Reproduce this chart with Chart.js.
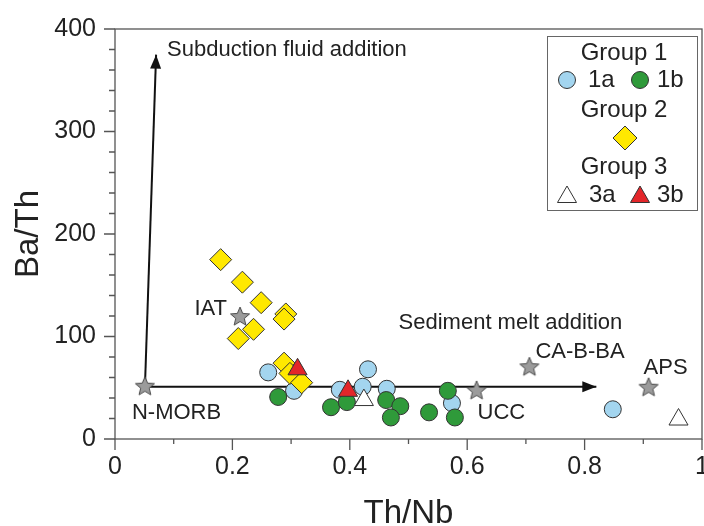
<!DOCTYPE html>
<html>
<head>
<meta charset="utf-8">
<title>Ba/Th vs Th/Nb</title>
<script src="https://cdn.jsdelivr.net/npm/chart.js@4.4.0/dist/chart.umd.min.js"></script>
<style>
  html, body { margin: 0; padding: 0; background: #fff; }
</style>
</head>
<body>
<canvas id="chart" width="704" height="526"></canvas>
<script>
// Group 1a - light blue circles
const g1aX = [0.261, 0.305, 0.383, 0.422, 0.431, 0.463, 0.574, 0.848]
const g1aY = [65, 47, 48, 51, 68, 49, 35, 29]
// Group 1b - green circles
const g1bX = [0.278, 0.368, 0.395, 0.462, 0.486, 0.470, 0.535, 0.567, 0.579]
const g1bY = [41, 31, 36, 38, 32, 21, 26, 47, 21]
// Group 2 - yellow diamonds
const g2X = [0.180, 0.217, 0.249, 0.291, 0.288, 0.236, 0.210, 0.288, 0.298, 0.318]
const g2Y = [175, 153, 133, 122, 117, 107, 98, 74, 64, 55]
// Group 3a / 3b - triangles
const g3aX = [0.424, 0.960]
const g3aY = [38, 19]
const g3bX = [0.311, 0.397]
const g3bY = [68, 47]
// reference compositions (stars)
const refNames = ['N-MORB', 'IAT', 'UCC', 'CA-B-BA', 'APS']
const refX = [0.051, 0.213, 0.616, 0.706, 0.909]
const refY = [51, 119, 47, 70, 50]
// trend arrows, both starting at N-MORB
const fluidX = [0.051, 0.070]
const fluidY = [51, 375]
const meltX = [0.051, 0.820]
const meltY = [51, 51]

const FONT = "'Liberation Sans', Arial, Helvetica, sans-serif"
const INK = '#222'
const EDGE = '#333'

const pts = (xs, ys) => xs.map((x, i) => ({ x, y: ys[i] }))

function makeStar(r) {
  const s = Math.ceil(r * 2 + 4)
  const c = document.createElement('canvas')
  c.width = s; c.height = s
  const g = c.getContext('2d')
  g.beginPath()
  for (let i = 0; i < 10; i++) {
    const rr = i % 2 ? r * 0.45 : r
    const a = -Math.PI / 2 + i * Math.PI / 5
    g.lineTo(s / 2 + rr * Math.cos(a), s / 2 + rr * Math.sin(a))
  }
  g.closePath()
  g.fillStyle = '#9b9b9b'
  g.fill()
  g.lineWidth = 1
  g.strokeStyle = '#4a4a4a'
  g.stroke()
  return c
}
const starImg = makeStar(10)

// frame + outward tick marks (long at labelled values, short otherwise)
const axisDecor = {
  id: 'axisDecor',
  beforeDatasetsDraw(chart) {
    const { ctx, chartArea: a, scales: { x, y } } = chart
    ctx.save()
    ctx.strokeStyle = '#555'
    ctx.lineWidth = 1.3
    ctx.strokeRect(a.left, a.top, a.right - a.left, a.bottom - a.top)
    ctx.beginPath()
    y.ticks.forEach(t => {
      const py = y.getPixelForValue(t.value)
      const len = Math.round(t.value) % 100 === 0 ? 11 : 6
      ctx.moveTo(a.left - len, py)
      ctx.lineTo(a.left, py)
    })
    x.ticks.forEach(t => {
      const px = x.getPixelForValue(t.value)
      const len = Math.round(t.value * 10) % 2 === 0 ? 11 : 5
      ctx.moveTo(px, a.bottom)
      ctx.lineTo(px, a.bottom + len)
    })
    ctx.stroke()
    ctx.restore()
  }
}

function arrowHead(ctx, x0, y0, x1, y1) {
  const ang = Math.atan2(y1 - y0, x1 - x0)
  const L = 14, W = 5.5
  ctx.beginPath()
  ctx.moveTo(x1, y1)
  ctx.lineTo(x1 - L * Math.cos(ang) + W * Math.sin(ang), y1 - L * Math.sin(ang) - W * Math.cos(ang))
  ctx.lineTo(x1 - L * Math.cos(ang) - W * Math.sin(ang), y1 - L * Math.sin(ang) + W * Math.cos(ang))
  ctx.closePath()
  ctx.fill()
}

const labelsAndLegend = {
  id: 'labelsAndLegend',
  afterDatasetsDraw(chart) {
    const { ctx, chartArea: a, scales: { x, y } } = chart
    ctx.save()
    ctx.fillStyle = '#111'
    // arrow heads
    const fx = fluidX.map(v => x.getPixelForValue(v)), fy = fluidY.map(v => y.getPixelForValue(v))
    const mx = meltX.map(v => x.getPixelForValue(v)), my = meltY.map(v => y.getPixelForValue(v))
    arrowHead(ctx, fx[0], fy[0], fx[1], fy[1])
    arrowHead(ctx, mx[0], my[0], mx[1], my[1])

    ctx.fillStyle = INK
    ctx.textBaseline = 'middle'
    ctx.font = '22px ' + FONT
    ctx.textAlign = 'left'
    ctx.fillText('Subduction fluid addition', fx[1] + 11, fy[1] - 5)
    ctx.textAlign = 'right'
    ctx.fillText('Sediment melt addition', mx[1] + 26, my[1] - 64)

    // star labels
    const offs = {
      'N-MORB': [-13, 26, 'left'],
      'IAT': [-13, -8, 'right'],
      'UCC': [1, 22, 'left'],
      'CA-B-BA': [6, -15, 'left'],
      'APS': [-5, -20, 'left']
    }
    refNames.forEach((n, i) => {
      const [dx, dy, al] = offs[n]
      ctx.textAlign = al
      ctx.fillText(n, x.getPixelForValue(refX[i]) + dx, y.getPixelForValue(refY[i]) + dy)
    })

    // legend box
    const L = a.right - 155, T = a.top + 7, W = 150, H = 174
    ctx.strokeStyle = '#666'
    ctx.lineWidth = 1
    ctx.strokeRect(L + 0.5, T + 0.5, W, H)
    ctx.font = '24px ' + FONT
    ctx.fillStyle = INK
    ctx.textAlign = 'center'
    ctx.fillText('Group 1', L + 77, T + 17)
    ctx.fillText('Group 2', L + 77, T + 74)
    ctx.fillText('Group 3', L + 77, T + 131)
    ctx.textAlign = 'left'
    ctx.fillText('1a', L + 41, T + 44)
    ctx.fillText('1b', L + 110, T + 44)
    ctx.fillText('3a', L + 42, T + 159)
    ctx.fillText('3b', L + 110, T + 159)

    const mark = (style, r, fill, cx, cy) => {
      ctx.fillStyle = fill
      ctx.strokeStyle = EDGE
      ctx.lineWidth = 1
      Chart.helpers.drawPoint(ctx, { pointStyle: style, radius: r, rotation: 0, borderWidth: 1 }, cx, cy)
    }
    mark('circle', 8.5, '#a3d5ef', L + 20, T + 44)
    mark('circle', 8.5, '#2f9a3a', L + 93, T + 44)
    mark('rectRot', 12, '#ffe800', L + 78, T + 102)
    mark('triangle', 11, '#ffffff', L + 20, T + 161)
    mark('triangle', 11, '#e3262a', L + 93, T + 161)
    ctx.restore()
  }
}

const pointSet = (label, xs, ys, style, r, fill, order) => ({
  label, data: pts(xs, ys), order,
  pointStyle: style, pointRadius: r, pointHoverRadius: r,
  backgroundColor: fill, borderColor: EDGE, borderWidth: 1, showLine: false
})

const lineSet = (label, xs, ys) => ({
  label, data: pts(xs, ys), order: 10, showLine: true,
  borderColor: '#111', borderWidth: 2, pointRadius: 0, fill: false
})

const tickFont = { family: FONT, size: 25 }
const titleFont = { family: FONT, size: 33, lineHeight: 1 }

new Chart(document.getElementById('chart'), {
  type: 'scatter',
  data: {
    datasets: [
      lineSet('fluid', fluidX, fluidY),
      lineSet('melt', meltX, meltY),
      pointSet('1a', g1aX, g1aY, 'circle', 8.5, '#a3d5ef', 6),
      pointSet('1b', g1bX, g1bY, 'circle', 8.5, '#2f9a3a', 5),
      pointSet('2', g2X, g2Y, 'rectRot', 11, '#ffe800', 4),
      pointSet('3a', g3aX, g3aY, 'triangle', 11, '#ffffff', 3),
      pointSet('3b', g3bX, g3bY, 'triangle', 11, '#e3262a', 2),
      {
        label: 'ref', data: pts(refX, refY), order: 1,
        pointStyle: starImg, pointRadius: 10, showLine: false
      }
    ]
  },
  options: {
    responsive: false,
    animation: false,
    events: [],
    layout: { autoPadding: false, padding: { top: 29, right: 2, left: 0, bottom: 0 } },
    plugins: { legend: { display: false }, tooltip: { enabled: false } },
    scales: {
      x: {
        type: 'linear', min: 0, max: 1,
        grid: { display: false, drawTicks: false },
        border: { display: false },
        ticks: {
          stepSize: 0.1, autoSkip: false, maxRotation: 0, padding: 13,
          font: tickFont, color: INK,
          callback: v => Math.round(v * 10) % 2 === 0 ? String(Math.round(v * 10) / 10) : ''
        },
        title: { display: true, text: 'Th/Nb', font: titleFont, color: INK, padding: { top: 0, bottom: -4 } },
        afterFit(s) { s.height = 87; s.paddingLeft = 0; s.paddingRight = 0 }
      },
      y: {
        type: 'linear', min: 0, max: 400,
        grid: { display: false, drawTicks: false },
        border: { display: false },
        ticks: {
          stepSize: 20, autoSkip: false, padding: 19,
          font: tickFont, color: INK,
          callback: v => v % 100 === 0 ? String(v) : ''
        },
        title: { display: true, text: 'Ba/Th', font: titleFont, color: INK, padding: { top: 12, bottom: 0 } },
        afterFit(s) { s.width = 115; s.paddingTop = 0; s.paddingBottom = 0 }
      }
    }
  },
  plugins: [axisDecor, labelsAndLegend]
})
</script>
</body>
</html>
